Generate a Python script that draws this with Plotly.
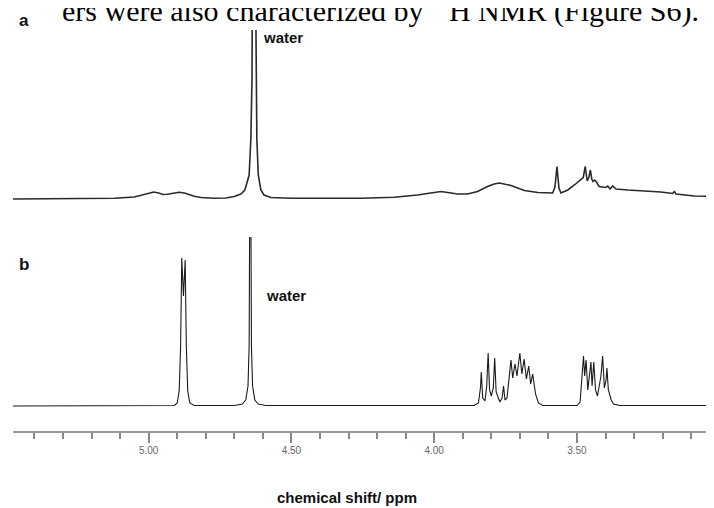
import plotly.graph_objects as go

# ---- data (ppm, intensity above baseline, arbitrary units) ----
a_ppm = [5.475, 5.40, 5.30, 5.20, 5.12, 5.05, 5.02, 4.995, 4.982, 4.965, 4.95, 4.935, 4.92, 4.905,
         4.893, 4.875, 4.86, 4.84, 4.817, 4.77, 4.73, 4.70, 4.677, 4.663, 4.648, 4.642, 4.638,
         4.637, 4.625, 4.624, 4.621, 4.616, 4.607, 4.596, 4.572, 4.50, 4.40, 4.30, 4.256, 4.14,
         4.058, 4.00, 3.976, 3.953, 3.918, 3.883, 3.848, 3.813, 3.790, 3.772, 3.750, 3.731, 3.684,
         3.637, 3.585, 3.577, 3.570, 3.563, 3.556, 3.532, 3.509, 3.486, 3.478, 3.471, 3.464, 3.458,
         3.453, 3.448, 3.444, 3.438, 3.433, 3.422, 3.400, 3.392, 3.384, 3.375, 3.363, 3.322, 3.264,
         3.206, 3.165, 3.159, 3.153, 3.089, 2.992]
a_int = [0.0, 0.3, 0.2, 0.5, 0.8, 2.0, 4.0, 6.2, 7.0, 6.0, 4.5, 4.8, 5.5, 6.3,
         6.7, 6.0, 4.5, 2.8, 1.5, 0.8, 1.0, 2.5, 5.0, 9.0, 24, 60, 120,
         200, 200, 120, 60, 24, 9, 4, 1.5, 0.8, 0.8, 0.8, 0.8, 1.8,
         4.0, 6.5, 7.5, 6.5, 5.0, 5.0, 7.5, 12.5, 15.0, 16.0, 15.0, 13.5, 8.5,
         6.5, 6.0, 12.0, 32.5, 11.0, 6.0, 9.0, 14.0, 19.0, 21.5, 32.5, 18.0, 22,
         29.0, 20, 17.5, 19, 17.5, 12.5, 11.5, 13.0, 10.0, 13.0, 10.0, 9.0, 8.0,
         7.0, 5.5, 7.5, 5.0, 3.0, 2.5]

b_ppm = [5.475, 4.91, 4.900, 4.893, 4.888, 4.884, 4.878, 4.872, 4.868, 4.863, 4.856, 4.84,
         4.70, 4.672, 4.660, 4.652, 4.648, 4.646, 4.642, 4.640, 4.636, 4.628, 4.616, 4.59,
         4.40, 4.00, 3.86, 3.845, 3.838, 3.835, 3.830, 3.822, 3.816, 3.811, 3.806, 3.800,
         3.793, 3.788, 3.783, 3.770, 3.762, 3.757, 3.752, 3.745, 3.738, 3.731, 3.725, 3.717,
         3.710, 3.700, 3.693, 3.685, 3.677, 3.669, 3.662, 3.655, 3.645, 3.635, 3.62, 3.50,
         3.489, 3.484, 3.477, 3.473, 3.468, 3.462, 3.456, 3.451, 3.447, 3.441, 3.435, 3.428,
         3.416, 3.410, 3.404, 3.398, 3.395, 3.390, 3.380, 3.372, 3.35, 2.992]
b_int = [0, 0.5, 3, 15, 60, 148, 110, 146, 60, 15, 3, 0.5,
         0.5, 2, 6, 20, 60, 200, 200, 60, 20, 6, 2, 0.5,
         0.5, 0.5, 0.5, 3, 18, 34, 8, 5, 20, 53, 16, 10,
         18, 48, 14, 4, 8, 20, 6, 8, 26, 46, 28, 42,
         30, 53, 32, 47, 27, 40, 22, 32, 12, 3, 0.5, 0.5,
         4, 26, 50, 30, 46, 16, 30, 44, 20, 44, 16, 10,
         30, 50, 18, 26, 38, 16, 6, 2, 0.5, 0.5]

tick_vals = [5.0, 4.5, 4.0, 3.5]
tick_text = ["5.00", "4.50", "4.00", "3.50"]
x_range = [5.475, 2.992]
axis_title = "chemical shift/ ppm"
caption = "ers were also characterized by  <sup>1</sup>H NMR (Figure S6)."

fig = go.Figure()
fig.add_trace(go.Scatter(x=a_ppm, y=a_int, mode="lines", xaxis="x", yaxis="y2",
                         line=dict(color="#2a2a2a", width=1.6), hoverinfo="skip"))
fig.add_trace(go.Scatter(x=b_ppm, y=b_int, mode="lines", xaxis="x", yaxis="y",
                         line=dict(color="#1a1a1a", width=1.1), hoverinfo="skip"))

W, H = 714, 508
L, R, T, B = 5, 0, 22, 85
ph = H - T - B
pw = W - L - R
AX = H - B  # pixel row of the x axis line


def px(x):
    return (x - L) / pw


def py(y):
    return (AX - y) / ph


bold = dict(family="Liberation Sans, Arial, sans-serif", color="#111")
ann = [
    dict(text="<b>a</b>", x=px(16), y=py(12), font=dict(size=17, **bold), xanchor="center", yanchor="middle"),
    dict(text="<b>b</b>", x=px(16), y=py(256), font=dict(size=17, **bold), xanchor="center", yanchor="middle"),
    dict(text="<b>water</b>", x=px(253), y=py(29), font=dict(size=15, **bold), xanchor="left", yanchor="middle"),
    dict(text="<b>water</b>", x=px(256), y=py(287), font=dict(size=15, **bold), xanchor="left", yanchor="middle"),
    dict(text="<b>" + axis_title + "</b>", x=px(339), y=py(489), font=dict(size=15, **bold),
         xanchor="center", yanchor="middle"),
    dict(text=caption, x=px(52), y=py(0), xanchor="left", yanchor="middle",
         font=dict(size=30, family="Liberation Serif, Times New Roman, serif", color="#000")),
]
for a in ann:
    a.update(xref="paper", yref="paper", showarrow=False)

fig.update_layout(
    width=W, height=H, margin=dict(l=L, r=R, t=T, b=B, pad=0),
    paper_bgcolor="white", plot_bgcolor="white", showlegend=False,
    annotations=ann,
    xaxis=dict(range=x_range, showgrid=False, zeroline=False, showline=True,
               linecolor="#9a9a9a", linewidth=2, ticks="outside", ticklen=10, tickwidth=2,
               tickcolor="#888", tickmode="array", tickvals=tick_vals, ticktext=tick_text,
               ticklabelstandoff=-1,
               tickfont=dict(size=10, color="#666", family="Liberation Sans, Arial, sans-serif"),
               minor=dict(ticks="outside", ticklen=6, tickwidth=1.5, tickcolor="#888",
                          tickmode="linear", tick0=0, dtick=0.1, showgrid=False),
               anchor="y"),
    yaxis=dict(domain=[0, py(229)], range=[-25, 169], visible=False, fixedrange=True),
    yaxis2=dict(domain=[py(215), 1], range=[-24, 169], visible=False, anchor="x", fixedrange=True),
)

fig.write_html("out.html")
